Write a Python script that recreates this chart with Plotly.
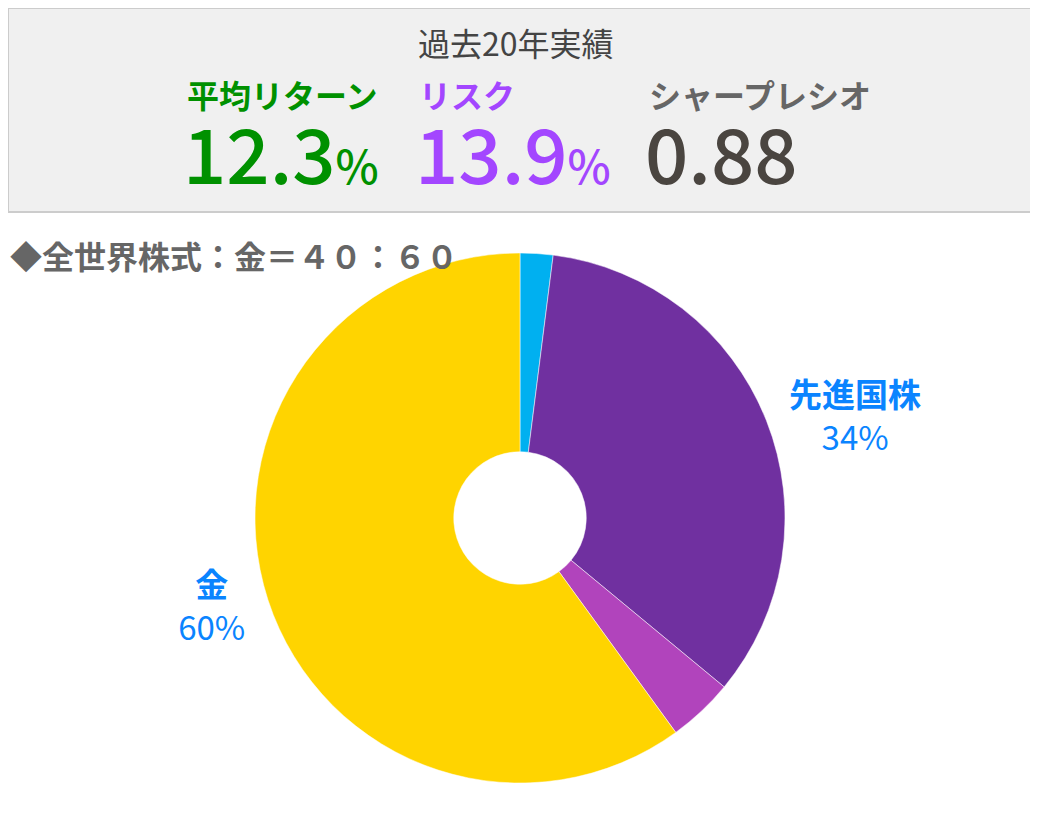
import plotly.graph_objects as go

# slices, clockwise from 12 o'clock
labels = ["日本株", "先進国株", "新興国株", "金"]
values = [2, 34, 4, 60]
colors = ["#00b0f0", "#7030a0", "#b144bc", "#ffd400"]
show_label = [False, True, False, True]

# header metrics
metric_names = ["平均リターン", "リスク", "シャープレシオ"]
metric_values = ["12.3", "13.9", "0.88"]
metric_units = ["%", "%", ""]
metric_colors = ["#009100", "#a346ff", "#4a4540"]

FONT = "Noto Sans CJK JP"
W, H = 1038, 814


def px(x, y):
    # pixel offsets from the top-left of the plot area -> paper coords
    return x / W, 1 - y / H


templates = ["<b>%{label}</b><br>%{percent:.0%}" if s else "" for s in show_label]

fig = go.Figure(
    go.Pie(
        labels=labels,
        values=values,
        sort=False,
        direction="clockwise",
        rotation=0,
        hole=0.25,
        marker=dict(colors=colors, line=dict(color="white", width=0.5)),
        texttemplate=templates,
        textposition="outside",
        textfont=dict(family=FONT, size=33, color="#0a84ff"),
        domain=dict(x=[0, 1024 / W], y=[0.0479, 0.699]),
        showlegend=False,
        automargin=False,
        hoverinfo="label+percent",
    )
)

# header box
fig.add_shape(
    type="rect", xref="paper", yref="paper",
    x0=0, x1=1023 / W, y0=1 - 204 / H, y1=1,
    fillcolor="#f0f0f0", line=dict(color="#cccccc", width=2), layer="below",
)
tx, ty = px(508, 9)
fig.add_annotation(
    x=tx, y=ty, xref="paper", yref="paper", showarrow=False,
    text="過去20年実績", font=dict(family=FONT, size=32, color="#444444"),
)

xs = [177, 409, 639]
for i in range(3):
    lx, ly = px(xs[i], 61)
    fig.add_annotation(
        x=lx, y=ly, xref="paper", yref="paper",
        xanchor="left", showarrow=False,
        text=f"<b>{metric_names[i]}</b>",
        font=dict(family=FONT, size=32, color=metric_colors[i] if i < 2 else "#666666"),
    )
    vx, vy = px(xs[i] - 4, 86)
    fig.add_annotation(
        x=vx, y=vy, xref="paper", yref="paper",
        xanchor="left", showarrow=False,
        text=f"{metric_values[i]}<span style='font-size:46px'>{metric_units[i]}</span>",
        font=dict(family=FONT, size=76, color=metric_colors[i], weight=500),
    )

sx, sy = px(0, 222)
fig.add_annotation(
    x=sx, y=sy, xref="paper", yref="paper",
    xanchor="left", showarrow=False,
    text="<b>◆全世界株式：金＝４０：６０</b>",
    font=dict(family=FONT, size=32, color="#666666"),
)

fig.update_layout(
    width=W, height=H,
    margin=dict(l=0, r=0, t=0, b=0, autoexpand=False),
    paper_bgcolor="white",
    font=dict(family=FONT),
)

fig.write_html("out.html")
